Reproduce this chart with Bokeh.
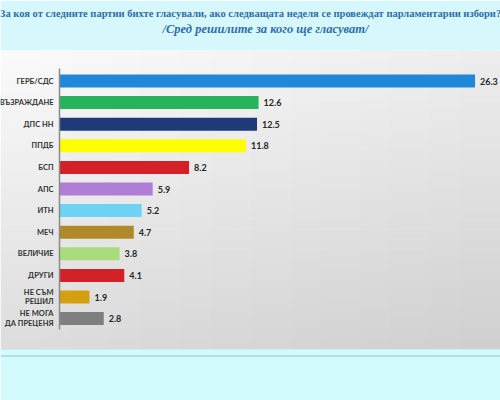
from bokeh.plotting import figure
from bokeh.models import Range1d, ColumnDataSource
from bokeh.core.properties import value
from bokeh.embed import file_html
from bokeh.resources import INLINE

# ---- data ----
parties = ["ГЕРБ/СДС", "ВЪЗРАЖДАНЕ", "ДПС НН", "ППДБ", "БСП", "АПС", "ИТН",
           "МЕЧ", "ВЕЛИЧИЕ", "ДРУГИ", "НЕ СЪМ\nРЕШИЛ", "НЕ МОГА\nДА ПРЕЦЕНЯ"]
shares = [26.3, 12.6, 12.5, 11.8, 8.2, 5.9, 5.2, 4.7, 3.8, 4.1, 1.9, 2.8]
bar_colors = ["#1f88d8", "#27b25c", "#1f3a78", "#ffff00", "#d42027", "#b07ed6",
              "#6fd3f5", "#b08a2a", "#a9dc7b", "#d42027", "#d4a012", "#7f7f7f"]
title_line1 = "За коя от следните партии бихте гласували, ако следващата неделя се провеждат парламентарни избори?"
title_line2 = "/Сред решилите за кого ще гласуват/"

# ---- layout (pixel geometry of the 500x400 canvas) ----
W, H = 500, 400
AXIS_X_PX = 59.0
PX_PER_UNIT = 15.8
ROW0_PX = 80.5
ROW_PX = 21.6


def xd(px):
    return (px - AXIS_X_PX) / PX_PER_UNIT


def yd(py):
    return (py - ROW0_PX) / ROW_PX


p = figure(width=W, height=H, output_backend="svg", toolbar_location=None,
           x_range=Range1d(xd(0), xd(W)), y_range=Range1d(yd(H), yd(0)),
           min_border=0, min_border_left=0, min_border_right=0,
           min_border_top=0, min_border_bottom=0)
p.axis.visible = False
p.grid.visible = False
p.outline_line_color = None
p.background_fill_color = "white"
p.border_fill_color = "white"

# header / footer bands
p.quad(left=xd(0), right=xd(W), top=yd(0), bottom=yd(50), fill_color="#d6f8fc", line_color=None)
p.quad(left=xd(0), right=xd(W), top=yd(348), bottom=yd(H), fill_color="#d3fafd", line_color=None)
p.segment(x0=xd(0), x1=xd(W), y0=yd(348.5), y1=yd(348.5), line_color="#c8e8ec", line_width=1.5)
p.segment(x0=xd(0), x1=xd(W), y0=yd(355.5), y1=yd(355.5), line_color="#b4e0e5", line_width=2)

# gradient panel
NX, NY = 50, 30
gl, gr, gt, gb, gc = [], [], [], [], []
for j in range(NY):
    for i in range(NX):
        x0 = W * i / NX
        x1 = W * (i + 1) / NX
        y0 = 50 + (348 - 50) * j / NY
        y1 = 50 + (348 - 50) * (j + 1) / NY
        xf = (i + 0.5) / NX
        yf = (j + 0.5) / NY
        v = int(round(251 - 14 * xf - 30 * yf))
        gl.append(xd(x0)); gr.append(xd(x1 + 0.5))
        gt.append(yd(y0)); gb.append(yd(y1 + 0.5))
        gc.append("#%02x%02x%02x" % (v, v, v))
p.quad(left=gl, right=gr, top=gt, bottom=gb, fill_color=gc, line_color=None)

# bars
idx = list(range(len(parties)))
src = ColumnDataSource(dict(y=idx, v=shares, c=bar_colors, name=parties,
                            lab=["%.1f" % s for s in shares]))
p.hbar(y="y", left=0, right="v", height=0.6, fill_color="c", line_color=None, source=src)

# axis line
p.segment(x0=0, x1=0, y0=yd(68), y1=yd(329), line_color="#8a8a8a", line_width=1.5)

# category labels
p.text(x=xd(53), y="y", text="name", source=src, text_align="right", text_baseline="middle",
       text_font=value("Lato"), text_font_style="bold", text_font_size="7.5px",
       text_line_height=1.1, text_color="#333333")

# value labels
p.text(x="v", y="y", text="lab", source=src, x_offset=5, text_align="left",
       text_baseline="middle", text_font=value("Lato"), text_font_style="bold",
       text_font_size="9px", text_color="#262626")

# titles
p.text(x=[xd(250)], y=[yd(13)], text=[title_line1], text_align="center", text_baseline="middle",
       text_font=value("Liberation Serif"), text_font_style="bold", text_font_size="10.5px",
       text_color="#2f6ea6")
p.text(x=[xd(265)], y=[yd(28)], text=[title_line2], text_align="center", text_baseline="middle",
       text_font=value("Liberation Serif"), text_font_style="bold italic", text_font_size="12.5px",
       text_color="#2f6ea6")

open("out.html", "w").write(file_html(p, INLINE))
